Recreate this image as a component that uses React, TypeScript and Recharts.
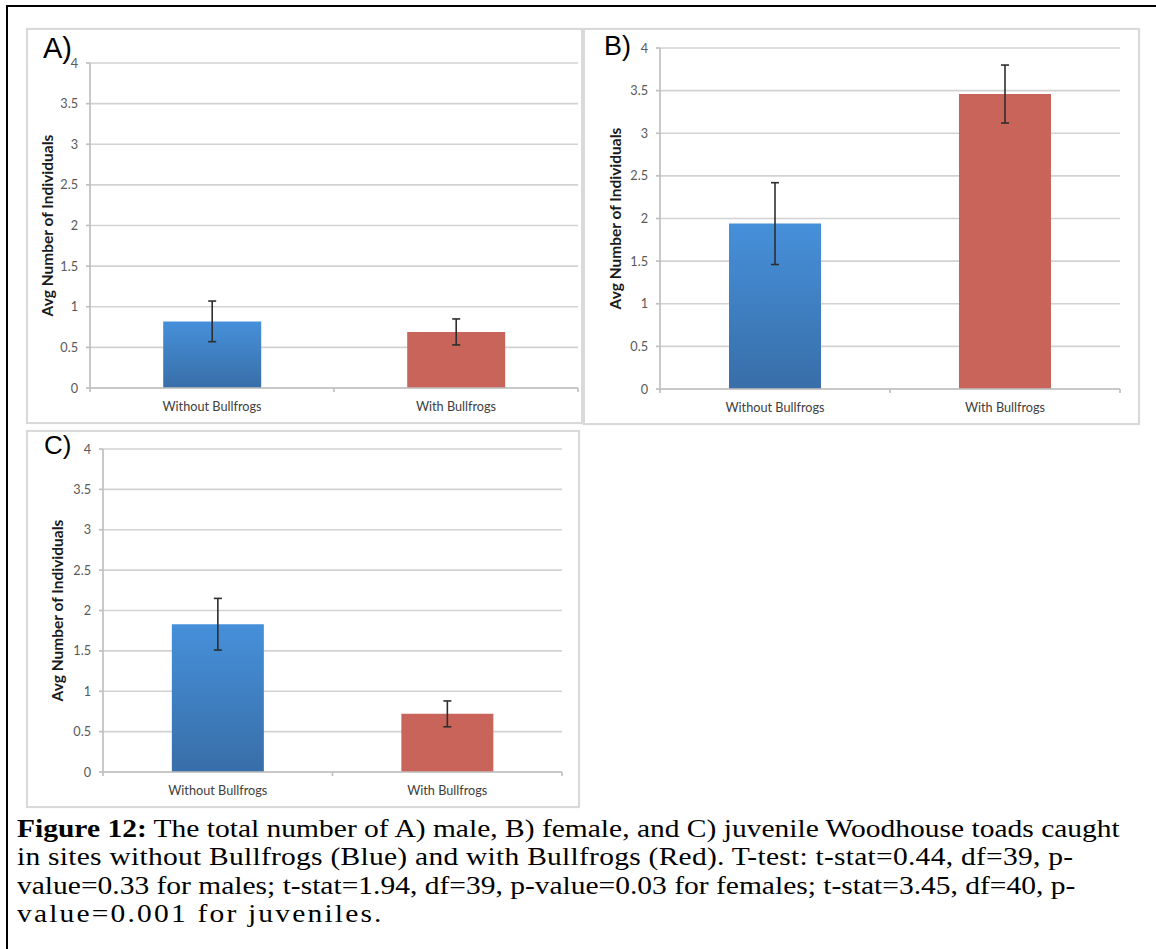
import React from 'react';
import { BarChart, Bar, XAxis, YAxis, CartesianGrid, ErrorBar, Cell } from 'recharts';

const categories = ['Without Bullfrogs', 'With Bullfrogs'];
const maleMeans = [0.82, 0.69];
const maleErr = [0.25, 0.16];
const femaleMeans = [1.94, 3.46];
const femaleErr = [0.48, 0.34];
const juvenileMeans = [1.83, 0.72];
const juvenileErr = [0.32, 0.16];
const yTicks = [0, 0.5, 1, 1.5, 2, 2.5, 3, 3.5, 4];
const yTitle = 'Avg Number of Individuals';

const captionLines = [
  [
    'Figure 12:',
    ' The total number of A) male, B) female, and C) juvenile Woodhouse toads caught',
  ],
  ['', 'in sites without Bullfrogs (Blue) and with Bullfrogs (Red). T-test: t-stat=0.44, df=39, p-'],
  ['', 'value=0.33 for males; t-stat=1.94, df=39, p-value=0.03 for females; t-stat=3.45, df=40, p-'],
  ['', 'value=0.001 for juveniles.'],
];
// per-line letter spacing of the caption (layout only)
const captionSpacing = [0, 0.22, 0, 1.85];

const makeData = (means: number[], errs: number[]) =>
  categories.map((name, i) => ({ name, value: means[i], err: errs[i] }));

type PanelProps = {
  id: string;
  means: number[];
  errs: number[];
  left: number;
  top: number;
  width: number;
  height: number;
  margin: { top: number; right: number; bottom: number; left: number };
  yAxisWidth: number;
  titleX: number;
};

const GRID = '#d2d2d2';
const AXIS = '#c0c0c0';
const TICK_MARGIN = 14;
const FONT = 12.7;

function makeCatTick(fallbackHalf: number, count: number) {
  return (props: any) => {
    const { x, y, payload, index } = props;
    const half = typeof payload?.offset === 'number' && payload.offset > 0 ? payload.offset : fallbackHalf;
    const axisY = y - TICK_MARGIN;
    return (
      <g>
        <line x1={x - half} y1={axisY} x2={x - half} y2={axisY + 4} stroke={AXIS} strokeWidth={1.7} />
        {index === count - 1 && (
          <line x1={x + half} y1={axisY} x2={x + half} y2={axisY + 4} stroke={AXIS} strokeWidth={1.7} />
        )}
        <text x={x} y={y} dy="0.71em" textAnchor="middle" fontSize={FONT} fill="#404040" fontFamily="Lato">
          {payload.value}
        </text>
      </g>
    );
  };
}

function Panel(p: PanelProps) {
  const data = makeData(p.means, p.errs);
  const gradId = 'blueGrad' + p.id;
  const plotW = p.width - p.yAxisWidth - p.margin.left - p.margin.right;
  const CatTick = makeCatTick(plotW / (2 * data.length), data.length);
  return (
    <div style={{ position: 'absolute', left: p.left, top: p.top, fontFamily: 'Lato' }}>
      <BarChart
        width={p.width}
        height={p.height}
        data={data}
        margin={p.margin}
        barCategoryGap="30%"
      >
        <defs>
          <linearGradient id={gradId} x1="0" y1="0" x2="0" y2="1">
            <stop offset="0%" stopColor="#4690da" />
            <stop offset="100%" stopColor="#386ea8" />
          </linearGradient>
        </defs>
        <CartesianGrid vertical={false} stroke={GRID} strokeWidth={1.7} />
        <XAxis
          dataKey="name"
          height={34}
          axisLine={{ stroke: AXIS, strokeWidth: 1.7 }}
          tickLine={false}
          tickSize={0}
          tickMargin={TICK_MARGIN}
          interval={0}
          tick={CatTick}
        />
        <YAxis
          domain={[0, 4]}
          ticks={yTicks}
          width={p.yAxisWidth}
          tickSize={4}
          tickMargin={8}
          tick={{ fontSize: FONT, fill: '#595959' }}
          axisLine={{ stroke: AXIS, strokeWidth: 1.7 }}
          tickLine={{ stroke: AXIS, strokeWidth: 1.7 }}
          label={{
            content: (props: any) => {
              const vb = props.viewBox || { x: 0, y: 0, width: 0, height: 0 };
              const cx = p.titleX;
              const cy = vb.y + vb.height / 2;
              return (
                <text
                  x={cx}
                  y={cy}
                  transform={`rotate(-90 ${cx} ${cy})`}
                  textAnchor="middle"
                  dominantBaseline="central"
                  fontSize={15.5}
                  fontWeight="bold"
                  fill="#1a1a1a"
                  fontFamily="Lato"
                >
                  {yTitle}
                </text>
              );
            },
          }}
        />
        <Bar dataKey="value" isAnimationActive={false}>
          {data.map((d, i) => (
            <Cell key={d.name} fill={i === 0 ? `url(#${gradId})` : '#c9645b'} />
          ))}
          <ErrorBar dataKey="err" width={4} stroke="#2e2e2e" strokeWidth={1.6} direction="y" />
        </Bar>
      </BarChart>
    </div>
  );
}

const boxStyle = (left: number, top: number, width: number, height: number): React.CSSProperties => ({
  position: 'absolute',
  left,
  top,
  width,
  height,
  border: '2px solid #d9d9d9',
  boxSizing: 'border-box',
  boxShadow: '0 0 1px #e6e6e6',
});

const labelStyle = (left: number, top: number, fontSize: number): React.CSSProperties => ({
  position: 'absolute',
  left,
  top,
  fontSize,
  lineHeight: `${fontSize}px`,
  fontFamily: '"Liberation Sans", Arial, sans-serif',
  color: '#000',
  whiteSpace: 'nowrap',
});

export default function App() {
  return (
    <div
      style={{
        position: 'absolute',
        left: 0,
        top: 0,
        width: 1156,
        height: 949,
        overflow: 'hidden',
        background: '#fff',
      }}
    >
      <div
        style={{
          position: 'absolute',
          left: 6,
          top: 5,
          width: 1200,
          height: 1000,
          border: '2px solid #000',
          boxSizing: 'border-box',
        }}
      />
      <div style={boxStyle(26, 28, 557, 396)} />
      <div style={boxStyle(583, 28, 557, 397)} />
      <div style={boxStyle(26, 430, 554, 378)} />

      <Panel
        id="A"
        means={maleMeans}
        errs={maleErr}
        left={27}
        top={29}
        width={556}
        height={394}
        margin={{ top: 34, right: 5, bottom: 1, left: 0 }}
        yAxisWidth={63}
        titleX={20}
      />
      <Panel
        id="B"
        means={femaleMeans}
        errs={femaleErr}
        left={584}
        top={29}
        width={555}
        height={395}
        margin={{ top: 19, right: 19, bottom: 1, left: 0 }}
        yAxisWidth={76}
        titleX={31}
      />
      <Panel
        id="C"
        means={juvenileMeans}
        errs={juvenileErr}
        left={27}
        top={431}
        width={552}
        height={376}
        margin={{ top: 18, right: 17, bottom: 1, left: 0 }}
        yAxisWidth={76}
        titleX={30}
      />

      <div style={labelStyle(43, 33.5, 29)}>A)</div>
      <div style={labelStyle(604, 33, 27)}>B)</div>
      <div style={labelStyle(44, 432, 26)}>C)</div>

      {captionLines.map((line, i) => (
        <div
          key={i}
          style={{
            position: 'absolute',
            left: 17,
            top: 814.7 + i * 28.4,
            fontFamily: '"Liberation Serif", "Times New Roman", serif',
            fontSize: 25,
            lineHeight: '28.4px',
            letterSpacing: captionSpacing[i],
            whiteSpace: 'nowrap',
            color: '#000',
            transform: 'scaleX(1.18)',
            transformOrigin: 'left top',
          }}
        >
          {line[0] && <b>{line[0]}</b>}
          {line[1]}
        </div>
      ))}
    </div>
  );
}
